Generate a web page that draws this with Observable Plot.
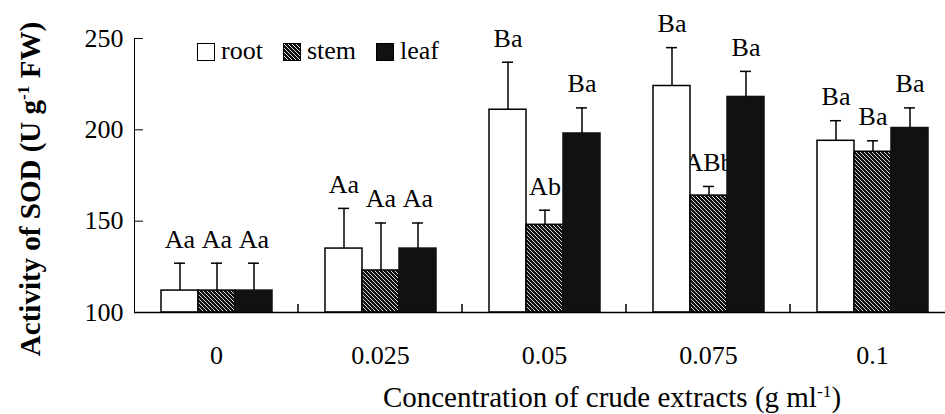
<!DOCTYPE html>
<html>
<head>
<meta charset="utf-8">
<script src="https://cdn.jsdelivr.net/npm/d3@7"></script>
<script src="https://cdn.jsdelivr.net/npm/@observablehq/plot@0.6"></script>
<style>
  html, body { margin: 0; padding: 0; background: white; overflow: hidden; }
  #wrap { position: relative; width: 945px; height: 414px; font-family: 'Liberation Serif', 'Times New Roman', serif; color: black; }
  #legend { position: absolute; left: 197px; top: 38px; display: flex; align-items: flex-end; font-size: 26px; line-height: 26px; }
  #legend .sw { width: 16px; height: 16px; border: 1.5px solid black; margin-right: 6px; margin-bottom: 3px; }
  #legend .lab { margin-right: 20px; }
  #xtitle { position: absolute; left: 612px; top: 383px; transform: translateX(-50%); font-size: 29px; line-height: 29px; white-space: nowrap; }
  #ytitle { position: absolute; left: 30px; top: 189px; transform: translate(-50%, -50%) rotate(-90deg); font-size: 29px; font-weight: bold; line-height: 29px; white-space: nowrap; }
  sup { font-size: 0.6em; vertical-align: 0.6em; line-height: 0; }
</style>
</head>
<body>
<svg width="0" height="0" style="position:absolute">
  <defs>
    <pattern id="hatch" patternUnits="userSpaceOnUse" width="4" height="4">
      <rect width="4" height="4" fill="#111"></rect>
      <path d="M-1,-1 L5,5 M-1,3 L1,5 M3,-1 L5,1" stroke="white" stroke-width="0.85"></path>
    </pattern>
  </defs>
</svg>
<div id="wrap">
  <div id="chart"></div>
  <div id="legend"></div>
  <div id="ytitle">Activity of SOD (U g<sup>-1</sup> FW)</div>
  <div id="xtitle">Concentration of crude extracts (g ml<sup>-1</sup>)</div>
</div>
<script>
// ---- data ----
const concentrations = ["0", "0.025", "0.05", "0.075", "0.1"];
const parts = ["root", "stem", "leaf"];
const rootMean = [112, 135, 211, 224, 194];
const rootErr  = [15, 22, 26, 21, 11];
const stemMean = [112, 123, 148, 164, 188];
const stemErr  = [15, 26, 8, 5, 6];
const leafMean = [112, 135, 198, 218, 201];
const leafErr  = [15, 14, 14, 14, 11];
const rootLabels = ["Aa", "Aa", "Ba", "Ba", "Ba"];
const stemLabels = ["Aa", "Aa", "Ab", "ABb", "Ba"];
const leafLabels = ["Aa", "Aa", "Ba", "Ba", "Ba"];
const yTicks = [100, 150, 200, 250];

const series = {
  root: {mean: rootMean, err: rootErr, label: rootLabels},
  stem: {mean: stemMean, err: stemErr, label: stemLabels},
  leaf: {mean: leafMean, err: leafErr, label: leafLabels}
};
const fills = {root: "white", stem: "url(#hatch)", leaf: "#111"};
const baseline = yTicks[0];

const rows = concentrations.flatMap((c, i) => parts.map(p => ({
  conc: c, part: p,
  mean: series[p].mean[i], err: series[p].err[i], label: series[p].label[i]
})));

const chart = Plot.plot({
  width: 945,
  height: 414,
  marginLeft: 134,
  marginRight: -9,
  marginTop: 38,
  marginBottom: 102,
  style: {fontFamily: "'Liberation Serif', 'Times New Roman', serif", fontSize: "26px", color: "black", background: "white", overflow: "visible"},
  facet: {data: rows, x: "conc"},
  fx: {domain: concentrations, padding: 0, axis: "bottom", tickSize: 0, tickPadding: 33, label: null},
  x: {domain: parts, paddingInner: 0, paddingOuter: 0.71, axis: null},
  y: {domain: [yTicks[0], yTicks[yTicks.length - 1]], ticks: yTicks, tickSize: -9, tickPadding: 20, line: true, label: null},
  marks: [
    Plot.text(rows, {x: "part", y: d => d.mean + d.err, text: "label", dy: -24, fontSize: 26, fill: "black"}),
    ...parts.map(p => Plot.barY(rows, {
      filter: d => d.part === p, x: "part", y1: baseline, y2: "mean",
      fill: fills[p], stroke: p === "leaf" ? "#111" : "black", strokeWidth: 1.5
    })),
    Plot.ruleX(rows, {x: "part", y1: "mean", y2: d => d.mean + d.err, stroke: "black", strokeWidth: 1.5}),
    Plot.tickY(rows, {x: "part", y: d => d.mean + d.err, insetLeft: 13, insetRight: 13, stroke: "black", strokeWidth: 1.5}),
    Plot.ruleY([baseline], {stroke: "black", strokeWidth: 1.5})
  ]
});
document.getElementById("chart").appendChild(chart);

// group separator ticks at facet band boundaries (Excel-style category ticks)
const fxs = chart.scale("fx");
const ys = chart.scale("y");
const bandStart = fxs.apply ? (c => fxs.apply(c)) :
  d3.scaleBand().domain(fxs.domain).range(fxs.range).padding(0);
const y0 = ys.apply ? ys.apply(baseline) : d3.scaleLinear().domain(ys.domain).range(ys.range)(baseline);
const g = d3.select(chart).append("g").attr("stroke", "black").attr("stroke-width", 1.5);
concentrations.slice(1).forEach(c => {
  const x = bandStart(c);
  g.append("line").attr("x1", x).attr("x2", x).attr("y1", y0).attr("y2", y0 - 8);
});

// legend
const legend = d3.select("#legend");
parts.forEach(p => {
  const sw = legend.append("div").attr("class", "sw").style("background", p === "root" ? "white" : p === "leaf" ? "#111" : "none");
  if (p === "stem") {
    sw.append("svg").attr("width", 16).attr("height", 16).style("display", "block")
      .append("rect").attr("width", 16).attr("height", 16).attr("fill", "url(#hatch)");
  }
  legend.append("div").attr("class", "lab").text(p);
});
</script>
</body>
</html>
